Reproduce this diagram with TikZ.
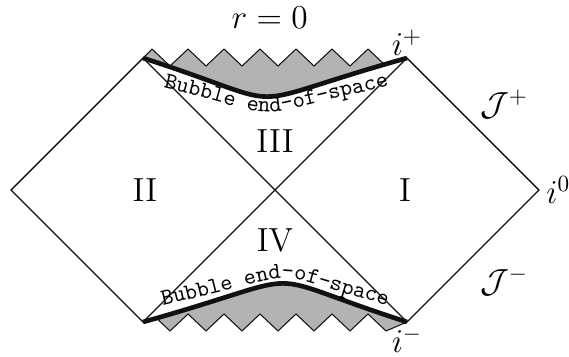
\documentclass[tikz,border=0pt]{standalone}
\usepackage{amsmath}
\usepackage{tikz}
\usetikzlibrary{decorations.text,positioning,calc}
\definecolor{singgray}{HTML}{B3B3B3}
\definecolor{ink}{HTML}{111111}
\tikzset{
  edge/.style={draw=ink, line width=0.6pt},
  wall/.style={draw=ink, line width=2pt},
  teeth/.style={draw=ink, line width=0.45pt, line join=miter},
  region/.style={font=\Large, inner sep=1pt},
  tag/.style={font=\Large, inner sep=1pt},
  bubtext/.style={decorate, decoration={text along path, text align=center,
      text={|\ttfamily\fontsize{10}{12}\selectfont|Bubble end-of-space}}},
}

\begin{document}
\begin{tikzpicture}
  \useasboundingbox (-4.167,-2.53) rectangle (4.455,2.879);
  % corners of the diagram
  \coordinate (west) at (-4,0);
  \coordinate (nw) at (-2,2);
  \coordinate (mid) at (0,0);
  \coordinate (ne) at (2,2);
  \coordinate (east) at (4,0);
  \coordinate (se) at (2,-2);
  \coordinate (sw) at (-2,-2);

  % singular region at the top
  \begin{scope}
    \clip (nw) .. controls (0.45,1.21) and (-0.75,1.23) .. (ne) -- (2,3) -- (-2,3) -- cycle;
    \fill[singgray] (nw) -- (-1.864,2.136)
      \foreach \k in {0,...,5} { -- ({-1.591+0.5455*\k},1.879) -- ({-1.318+0.5455*\k},2.136) }
      -- (1.682,1.879) -- (ne) -- (2,1) -- (-2,1) -- cycle;
    \draw[teeth] (nw) -- (-1.864,2.136)
      \foreach \k in {0,...,5} { -- ({-1.591+0.5455*\k},1.879) -- ({-1.318+0.5455*\k},2.136) }
      -- (1.682,1.879) -- (ne);
  \end{scope}
  % singular region at the bottom
  \begin{scope}
    \clip (sw) .. controls (0.75,-1.23) and (-0.45,-1.21) .. (se) -- (2,-3) -- (-2,-3) -- cycle;
    \fill[singgray] (sw) -- (-1.864,-1.879)
      \foreach \k in {0,...,5} { -- ({-1.591+0.5455*\k},-2.136) -- ({-1.318+0.5455*\k},-1.879) }
      -- (1.682,-2.136) -- (se) -- (2,-1) -- (-2,-1) -- cycle;
    \draw[teeth] (sw) -- (-1.864,-1.879)
      \foreach \k in {0,...,5} { -- ({-1.591+0.5455*\k},-2.136) -- ({-1.318+0.5455*\k},-1.879) }
      -- (1.682,-2.136) -- (se);
  \end{scope}

  \draw[edge] (west) -- (nw) -- (se) -- (east) -- (ne) -- (sw) -- cycle;
  \draw[wall] (nw) .. controls (0.45,1.21) and (-0.75,1.23) .. (ne);
  \draw[wall] (sw) .. controls (0.75,-1.23) and (-0.45,-1.21) .. (se);

  \path[bubtext] (-1.72,1.56) .. controls (0.4,1.04) and (-0.7,1.06) .. (1.76,1.58);
  \path[bubtext] (-1.82,-1.78) .. controls (0.75,-1.20) and (-0.45,-1.18) .. (1.82,-1.78);

  \node[region] (one) at (1.97,0) {I};
  \node[region] (two) at (-1.97,0) {II};
  \node[region] (three) at (0,0.74) {III};
  \node[region] (four) at (0,-0.77) {IV};

  \node[tag, above=0pt of ne] (iplus) {$i^+$};
  \node[tag, right=2pt of east] (izero) {$i^0$};
  \node[tag, below=1pt of se] (iminus) {$i^-$};
  \node[tag] (scriplus) at (3.47,1.30) {$\mathcal{J}^+$};
  \node[tag] (scriminus) at (3.47,-1.38) {$\mathcal{J}^-$};
  \node[tag] (sing) at (-0.08,2.606) {$r=0$};
\end{tikzpicture}
\end{document}
